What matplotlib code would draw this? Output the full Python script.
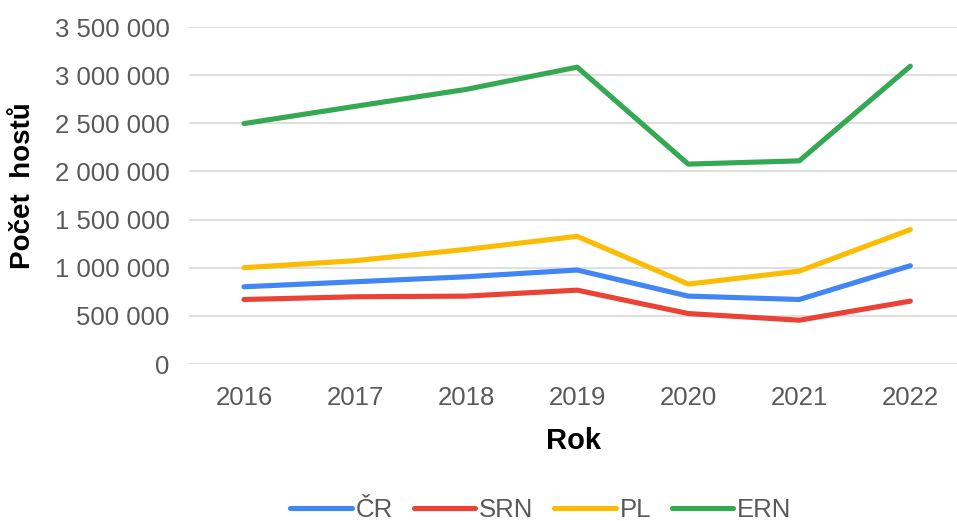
import matplotlib
matplotlib.use("Agg")
import matplotlib.pyplot as plt
from matplotlib.ticker import FuncFormatter, MultipleLocator

years = [2016, 2017, 2018, 2019, 2020, 2021, 2022]
cr = [802000, 854000, 906000, 976000, 705000, 670000, 1021000]
srn = [670000, 698000, 705000, 767000, 524000, 455000, 653000]
pl = [1000000, 1073000, 1190000, 1326000, 830000, 965000, 1396000]
ern = [2497000, 2676000, 2852000, 3083000, 2076000, 2110000, 3093000]

series = [("ČR", cr, "#4285F4"), ("SRN", srn, "#EA4335"),
          ("PL", pl, "#FBBC04"), ("ERN", ern, "#34A853")]

plt.rcParams['font.family'] = ['Liberation Sans', 'DejaVu Sans']

fig = plt.figure(figsize=(9.57, 5.21), dpi=100)
ax = fig.add_axes([189 / 957, 157 / 521, 768 / 957, 337 / 521])

for name, vals, color in series:
    ax.plot(years, vals, color=color, lw=3.7, label=name,
            solid_capstyle='round', solid_joinstyle='round', zorder=3)

ax.set_xlim(2015.505, 2022.42)
ax.set_ylim(0, 3500000)
ax.yaxis.set_major_locator(MultipleLocator(500000))
ax.yaxis.set_major_formatter(FuncFormatter(lambda v, p: f"{int(v):,}".replace(",", " ")))
ax.set_xticks(years)

# light horizontal grid, no spines
ax.grid(axis='y', color='#d9d9d9', lw=1.2)
for s in ax.spines.values():
    s.set_visible(False)
ax.tick_params(axis='both', length=0, labelsize=18.5, labelcolor='#595959')
ax.tick_params(axis='y', pad=14)
ax.tick_params(axis='x', pad=16)

ax.set_xlabel("Rok", fontsize=21, fontweight='bold', labelpad=12)
ax.set_ylabel("Počet  hostů", fontsize=20, fontweight='bold')
ax.yaxis.set_label_coords(-(189 - 36) / 768, 0.53)

leg = fig.legend(loc='center', bbox_to_anchor=(541 / 957, 1 - 510 / 521), ncol=4,
                 frameon=False, fontsize=18.5, handlelength=2.4, handletextpad=0.15,
                 columnspacing=0.8)
for t in leg.get_texts():
    t.set_color('#595959')

fig.savefig("out.png", dpi=100)
